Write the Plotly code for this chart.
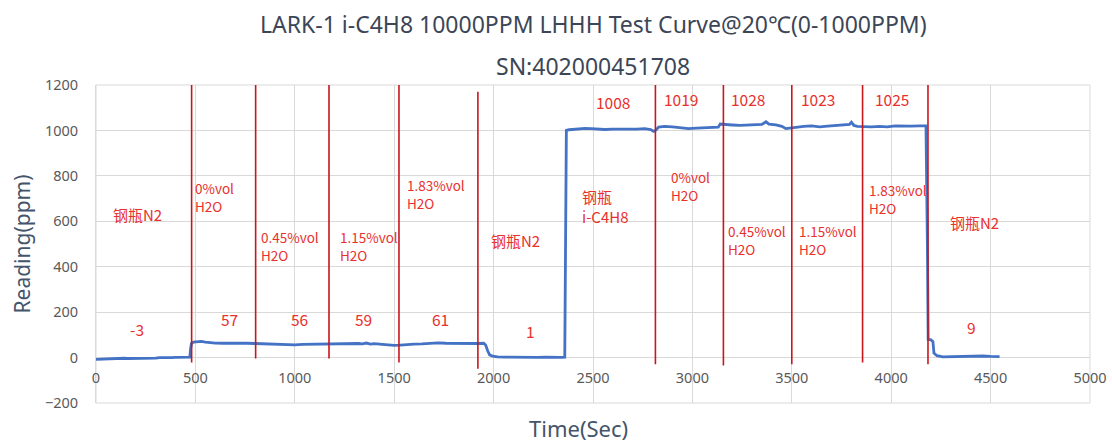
import plotly.graph_objects as go

# ---------------- data ----------------
time_s = [0, 20, 40, 60, 80, 100, 120, 140, 160, 180, 200, 220, 240, 260, 280, 300, 320, 340, 360, 380,
          400, 420, 440, 460, 472, 476, 480, 490, 510, 530, 550, 570, 600, 640, 680, 720, 760, 800, 840,
          880, 920, 960, 1000, 1040, 1080, 1120, 1160, 1200, 1240, 1280, 1320, 1340, 1360, 1380, 1400,
          1440, 1470, 1500, 1530, 1560, 1600, 1640, 1680, 1720, 1760, 1800, 1840, 1880, 1920, 1950,
          1960, 1970, 1980, 1995, 2020, 2060, 2100, 2140, 2180, 2220, 2260, 2300, 2340, 2358, 2362,
          2366, 2380, 2400, 2430, 2460, 2490, 2520, 2560, 2600, 2640, 2680, 2720, 2760, 2790, 2805,
          2815, 2830, 2860, 2900, 2940, 2980, 3020, 3060, 3100, 3130, 3140, 3160, 3200, 3240, 3280,
          3320, 3350, 3370, 3385, 3420, 3450, 3470, 3490, 3520, 3560, 3600, 3640, 3680, 3720, 3760,
          3790, 3800, 3812, 3830, 3860, 3900, 3940, 3980, 4020, 4060, 4100, 4140, 4175, 4182, 4186,
          4200, 4210, 4215, 4230, 4260, 4300, 4340, 4380, 4420, 4460, 4500, 4545]
reading_ppm = [-8, -7, -7, -5, -6, -4, -5, -3, -4, -4, -2, -3, -3, -1, -2, -2, 0, -1, 1, 0,
               1, 2, 0, 3, 2, 40, 62, 68, 70, 71, 68, 66, 64, 63, 64, 62, 63, 62, 61,
               60, 57, 55, 56, 58, 59, 60, 60, 61, 60, 61, 62, 60, 64, 59, 61,
               58, 55, 54, 55, 58, 59, 60, 62, 65, 63, 62, 61, 62, 62, 63,
               55, 30, 12, 6, 3, 2, 1, 3, 0, 1, 2, 0, 1, 2, 500,
               1000, 1003, 1005, 1007, 1009, 1008, 1005, 1004, 1006, 1005, 1007, 1006, 1008, 1004, 996,
               1000, 1015, 1018, 1016, 1012, 1008, 1010, 1011, 1012, 1014, 1028, 1026, 1024, 1022, 1023,
               1025, 1027, 1038, 1028, 1024, 1018, 1008, 1010, 1016, 1018, 1020, 1016, 1019, 1021, 1024,
               1026, 1036, 1022, 1018, 1017, 1016, 1018, 1016, 1020, 1018, 1019, 1020, 1020, 500, 80,
               78, 70, 20, 8, 3, 4, 6, 8, 9, 7, 5, 4]

# vertical phase-change markers
marker_times = [481, 803, 1172, 1524, 1921, 2814, 3156, 3500, 3856, 4185]
marker_top = [1208, 1212, 1212, 1208, 1170, 1215, 1200, 1210, 1208, 1200]
marker_bottom = [-22, -4, -4, -22, -49, -29, -35, -29, -22, -29]

# phase labels (left-aligned text)
phase_text = ["0%vol<br>H2O", "0.45%vol<br>H2O", "1.15%vol<br>H2O", "1.83%vol<br>H2O",
              "0%vol<br>H2O", "0.45%vol<br>H2O", "1.15%vol<br>H2O", "1.83%vol<br>H2O"]
phase_x = [486, 820, 1217, 1554, 2882, 3169, 3526, 3878]
phase_y = [707, 490, 490, 720, 755, 517, 517, 698]

# gas-source labels
gas_text = ["钢瓶N2", "钢瓶N2", "钢瓶<br>i-C4H8", "钢瓶N2"]
gas_x = [211, 2108, 2435, 4421]
gas_y = [630, 517, 663, 596]
gas_anchor = ["center", "center", "left", "center"]

# average readings
avg_text = ["-3", "57", "56", "59", "61", "1", "1008", "1019", "1028", "1023", "1025", "9"]
avg_x = [206, 674, 1026, 1348, 1735, 2188, 2600, 2943, 3280, 3632, 4004, 4406]
avg_y = [128, 172, 172, 172, 172, 115, 1126, 1140, 1140, 1140, 1140, 133]

x_ticks = [0, 500, 1000, 1500, 2000, 2500, 3000, 3500, 4000, 4500, 5000]
y_ticks = [-200, 0, 200, 400, 600, 800, 1000, 1200]

# ---------------- figure ----------------
RED_LINE = "#c8161d"
RED_TEXT = "#e8302c"
BLUE = "#4472c4"
GRID = "#d9d9d9"
TICK = "#595959"
AXTITLE = "#44546a"
TITLE = "#3c4656"

fig = go.Figure()
fig.add_trace(go.Scatter(x=time_s, y=reading_ppm, mode="lines",
                         line=dict(color=BLUE, width=2.8), showlegend=False,
                         hoverinfo="skip"))

for t, top, bot in zip(marker_times, marker_top, marker_bottom):
    fig.add_shape(type="line", xref="x", yref="y", x0=t, x1=t, y0=bot, y1=top,
                  line=dict(color=RED_LINE, width=1.6), layer="above")

annos = []
for txt, x, y in zip(phase_text, phase_x, phase_y):
    annos.append(dict(x=x, y=y, xref="x", yref="y", text=txt, showarrow=False,
                      xanchor="left", yanchor="middle", align="left",
                      font=dict(family="Noto Sans CJK SC", size=13.5, color=RED_TEXT)))
for txt, x, y, anc in zip(gas_text, gas_x, gas_y, gas_anchor):
    annos.append(dict(x=x, y=y, xref="x", yref="y", text=txt, showarrow=False,
                      xanchor=anc, yanchor="middle", align="left",
                      font=dict(family="Noto Sans CJK SC", size=15, color=RED_TEXT)))
for txt, x, y in zip(avg_text, avg_x, avg_y):
    annos.append(dict(x=x, y=y, xref="x", yref="y", text=txt, showarrow=False,
                      xanchor="center", yanchor="middle",
                      font=dict(family="Noto Sans CJK SC", size=15.5, color=RED_TEXT)))
annos.append(dict(x=0.5, y=1, xref="paper", yref="paper", yshift=61,
                  text="LARK-1 i-C4H8 10000PPM LHHH Test Curve@20℃(0-1000PPM)",
                  showarrow=False, xanchor="center", yanchor="middle",
                  font=dict(family="Noto Sans", size=23, color=TITLE)))
annos.append(dict(x=0.5, y=1, xref="paper", yref="paper", yshift=19,
                  text="SN:402000451708",
                  showarrow=False, xanchor="center", yanchor="middle",
                  font=dict(family="Noto Sans", size=23, color=TITLE)))
annos.append(dict(x=0.485, y=0, xref="paper", yref="paper", yshift=-25,
                  text="Time(Sec)", showarrow=False, xanchor="center", yanchor="middle",
                  font=dict(family="Noto Sans", size=22, color=AXTITLE)))

fig.update_layout(
    width=1112, height=442,
    margin=dict(l=96, r=22, t=85, b=39, autoexpand=False),
    paper_bgcolor="white", plot_bgcolor="white",
    annotations=annos,
    xaxis=dict(range=[0, 5000], tickvals=x_ticks, showticklabels=False,
               showgrid=True, gridcolor=GRID, gridwidth=1, zeroline=False,
               showline=False, ticks=""),
    xaxis2=dict(range=[0, 5000], tickvals=x_ticks, overlaying="x", anchor="free",
                position=200 / 1400, side="bottom", showgrid=False, zeroline=False,
                showline=False, ticks="",
                ticklabelstandoff=10,
                tickfont=dict(family="Noto Sans", size=14.5, color=TICK)),
    yaxis=dict(range=[-200, 1200], tickvals=y_ticks, showgrid=True, gridcolor=GRID,
               gridwidth=1, zeroline=False, showline=True, linecolor=GRID, ticks="",
               ticklabelstandoff=14,
               tickfont=dict(family="Noto Sans", size=14.5, color=TICK),
               title=dict(text="Reading(ppm)", standoff=8,
                          font=dict(family="Noto Sans", size=21, color=AXTITLE))),
)
# invisible trace to activate xaxis2 (the tick-label axis that crosses at y=0)
fig.add_trace(go.Scatter(x=[0, 5000], y=[None, None], xaxis="x2", yaxis="y",
                         mode="lines", showlegend=False, hoverinfo="skip"))
fig.add_shape(type="rect", xref="paper", yref="paper", x0=0, x1=1, y0=0, y1=1,
              line=dict(color=GRID, width=1), layer="below")

fig.write_html("out.html", config={"displayModeBar": False},
               post_script="document.body.style.margin='0';document.body.style.overflow='hidden';")
